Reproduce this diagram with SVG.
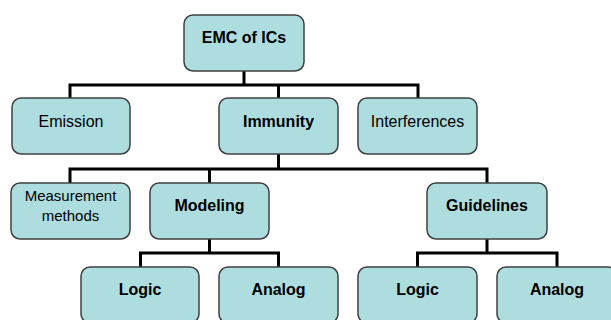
<svg xmlns="http://www.w3.org/2000/svg" width="611" height="320" viewBox="0 0 611 320">
<style>
.box{fill:#AEDDE0;stroke:#404040;stroke-width:1.5}
.t{font-family:"Liberation Sans",Arial,sans-serif;font-size:16px;fill:#000;text-anchor:middle}
.b{font-weight:bold}
.c{fill:none;stroke:#000;stroke-width:3;stroke-linejoin:miter}
</style>
<rect width="611" height="320" fill="#fff"/>
<g id="connectors">
<path class="c" d="M244,71V85M70,98V85H418V98M278.5,85V98"/>
<path class="c" d="M278.5,154V169M70,183V169H487V183M209.5,169V183"/>
<path class="c" d="M209.5,239V253M140.5,267V253H278.5V267"/>
<path class="c" d="M487,239V253M417.5,267V253H557V267"/>
</g>
<g id="emc"><rect class="box" x="184" y="15" width="120" height="56" rx="9"/><text class="t b" x="244" y="43">EMC of ICs</text></g>
<g id="emission"><rect class="box" x="12" y="98" width="118" height="56" rx="9"/><text class="t" x="71" y="127">Emission</text></g>
<g id="immunity"><rect class="box" x="219" y="98" width="119" height="56" rx="9"/><text class="t b" x="278.5" y="127">Immunity</text></g>
<g id="interferences"><rect class="box" x="358" y="98" width="119" height="56" rx="9"/><text class="t" x="417.5" y="127">Interferences</text></g>
<g id="measurement"><rect class="box" x="11" y="183" width="119" height="56" rx="9"/><text class="t" x="70.5" y="201" style="font-size:15px">Measurement</text><text class="t" x="70.5" y="221" style="font-size:15px">methods</text></g>
<g id="modeling"><rect class="box" x="150" y="183" width="119" height="56" rx="9"/><text class="t b" x="209.5" y="211">Modeling</text></g>
<g id="guidelines"><rect class="box" x="427" y="183" width="120" height="56" rx="9"/><text class="t b" x="487" y="211">Guidelines</text></g>
<g id="logic1"><rect class="box" x="81" y="267" width="118" height="56" rx="9"/><text class="t b" x="140" y="295">Logic</text></g>
<g id="analog1"><rect class="box" x="219" y="267" width="119" height="56" rx="9"/><text class="t b" x="278.5" y="295">Analog</text></g>
<g id="logic2"><rect class="box" x="358" y="267" width="119" height="56" rx="9"/><text class="t b" x="417.5" y="295">Logic</text></g>
<g id="analog2"><rect class="box" x="497" y="267" width="120" height="56" rx="9"/><text class="t b" x="557" y="295">Analog</text></g>
</svg>
